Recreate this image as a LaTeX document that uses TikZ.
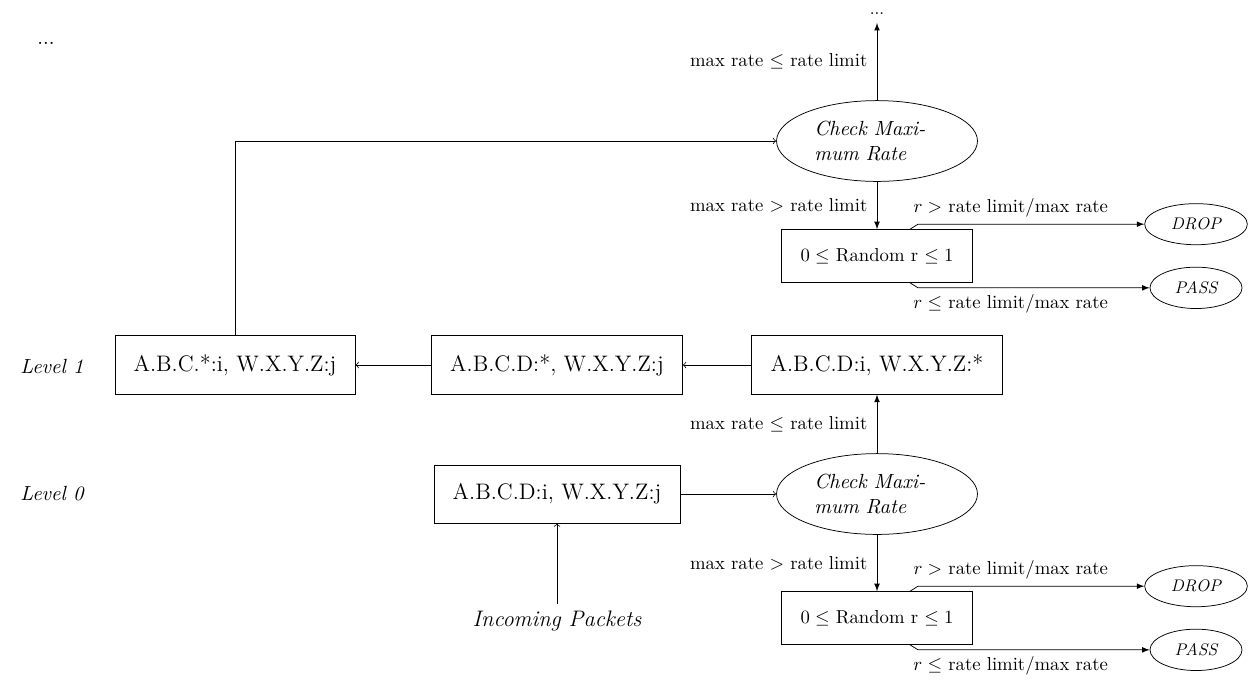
\documentclass[tikz,border=0pt]{standalone}
\usetikzlibrary{shapes.geometric,calc}
\begin{document}
\begin{tikzpicture}[x=0.0188cm,y=-0.0188cm,
  lvbox/.style={draw, rectangle, inner sep=10pt, font=\fontsize{12}{14.5}\selectfont},
  rndbox/.style={draw, rectangle, inner sep=10pt, font=\fontsize{10}{12}\selectfont},
  chk/.style={draw, ellipse, text width=67pt, align=left, inner sep=4.5pt, font=\fontsize{10.95}{13.6}\selectfont\itshape},
  res/.style={draw, ellipse, inner xsep=6pt, inner ysep=4.5pt, font=\fontsize{9}{11}\selectfont\itshape},
  lbl/.style={font=\fontsize{10}{12}\selectfont},
  vlbl/.style={lbl, left, inner sep=5pt},
  lvl/.style={font=\fontsize{10.95}{13.6}\selectfont\itshape},
  flow/.style={->},
  dec/.style={-latex}]
\useasboundingbox (0,0) rectangle (1253,682);

% level labels and continuation dots
\node[lvl] (lv1) at (52,366) {Level 1};
\node[lvl] (lv0) at (52,494) {Level 0};
\node[font=\fontsize{10.95}{13.6}\selectfont] (dotsL) at (46,43) {...};

% level boxes
\node[lvbox] (b1) at (235,365) {A.B.C.*:i, W.X.Y.Z:j};
\node[lvbox] (b2) at (557,365) {A.B.C.D:*, W.X.Y.Z:j};
\node[lvbox] (b3) at (877,365) {A.B.C.D:i, W.X.Y.Z:*};
\node[lvbox] (b0) at (557,494) {A.B.C.D:i, W.X.Y.Z:j};
\node[font=\fontsize{12}{14.5}\selectfont\itshape] (inc) at (557,620.5) {Incoming Packets};

% lower check
\node[chk] (c0) at (877,494) {Check Maximum Rate};
\node[rndbox] (r0) at (877,618) {$0\leq$ Random r $\leq 1$};
\coordinate (r0n) at ($(r0.north)+(33,0)$);
\coordinate (r0s) at ($(r0.south)+(33,0)$);
\node[res] (d0) at ($(r0.north)+(319,-5)$) {DROP};
\node[res] (p0) at ($(r0.south)+(319,5)$) {PASS};

% upper check
\node[chk] (c1) at (877,141) {Check Maximum Rate};
\node[rndbox] (r1) at (877,256) {$0\leq$ Random r $\leq 1$};
\coordinate (r1n) at ($(r1.north)+(33,0)$);
\coordinate (r1s) at ($(r1.south)+(33,0)$);
\node[res] (d1) at ($(r1.north)+(319,-5)$) {DROP};
\node[res] (p1) at ($(r1.south)+(319,5)$) {PASS};
\node[font=\fontsize{9}{11}\selectfont, anchor=south, inner sep=4.5pt] (dotsT) at (877,23) {...};

% connectors
\draw[flow] (b3) -- (b2);
\draw[flow] (b2) -- (b1);
\draw[flow] (b1.north) |- (c1.west);
\draw[flow] (inc) -- (b0);
\draw[flow] (b0) -- (c0);

\draw[dec] (c0) -- node[vlbl] {max rate $\leq$ rate limit} (b3);
\draw[dec] (c0) -- node[vlbl] {max rate $>$ rate limit} (r0);
\draw[dec] (r0n) -- ++(8,-5) -- node[lbl, above, pos=0.41] {$r >$ rate limit/max rate} (d0.west);
\draw[dec] (r0s) -- ++(8,5) -- node[lbl, below, pos=0.40] {$r \leq$ rate limit/max rate} (p0.west);

\draw[dec] (c1) -- node[vlbl] {max rate $\leq$ rate limit} (dotsT);
\draw[dec] (c1) -- node[vlbl] {max rate $>$ rate limit} (r1);
\draw[dec] (r1n) -- ++(8,-5) -- node[lbl, above, pos=0.41] {$r >$ rate limit/max rate} (d1.west);
\draw[dec] (r1s) -- ++(8,5) -- node[lbl, below, pos=0.40] {$r \leq$ rate limit/max rate} (p1.west);
\end{tikzpicture}
\end{document}
